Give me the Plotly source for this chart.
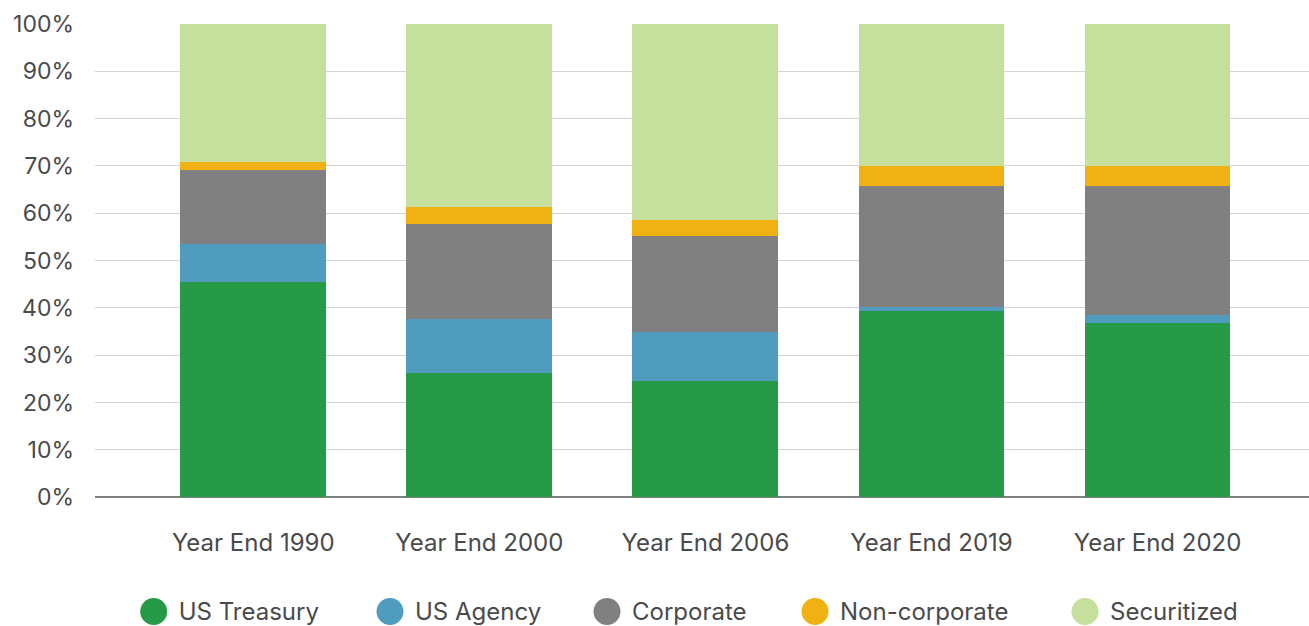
import plotly.graph_objects as go

categories = ["Year End 1990", "Year End 2000", "Year End 2006", "Year End 2019", "Year End 2020"]
series_names = ["US Treasury", "US Agency", "Corporate", "Non-corporate", "Securitized"]
us_treasury = [45.5, 26.3, 24.6, 39.3, 36.8]
us_agency = [8.0, 11.4, 10.3, 0.9, 1.7]
corporate = [15.7, 20.0, 20.3, 25.6, 27.3]
non_corporate = [1.65, 3.6, 3.4, 4.2, 4.2]
securitized = [29.15, 38.7, 41.4, 30.0, 30.0]
y_tick_values = [0, 10, 20, 30, 40, 50, 60, 70, 80, 90, 100]
y_tick_labels = ["0%", "10%", "20%", "30%", "40%", "50%", "60%", "70%", "80%", "90%", "100%"]

colors = ["#269A46", "#509CBF", "#808080", "#F0B213", "#C5DF9C"]
values = [us_treasury, us_agency, corporate, non_corporate, securitized]

W, H = 1309, 626
FONT = "Inter"
TXT = "#4a4a4a"

fig = go.Figure()
for name, vals, col in zip(series_names, values, colors):
    fig.add_trace(go.Bar(
        x=categories, y=vals, name=name, marker=dict(color=col, line=dict(width=0)),
        width=0.645, showlegend=False, hoverinfo="x+y+name"))

# custom legend (large circular swatches) on an overlay pixel-space axis
legend_x = [153.7, 390, 607, 815, 1085]
legend_y = 611.5
fig.add_trace(go.Scatter(
    x=legend_x, y=[legend_y] * 5, mode="markers", xaxis="x2", yaxis="y2",
    marker=dict(size=27, color=colors, line=dict(width=0)),
    showlegend=False, hoverinfo="skip", cliponaxis=False))
fig.add_trace(go.Scatter(
    x=[v + 25 for v in legend_x], y=[legend_y + 2] * 5, mode="text", xaxis="x2", yaxis="y2",
    text=series_names, textposition="middle right",
    textfont=dict(family=FONT, size=24, color=TXT),
    showlegend=False, hoverinfo="skip", cliponaxis=False))

fig.update_layout(
    width=W, height=H, barmode="stack", bargap=0,
    paper_bgcolor="white", plot_bgcolor="rgba(0,0,0,0)",
    margin=dict(l=0, r=0, t=0, b=0),
    font=dict(family=FONT, size=22, color=TXT),
    xaxis=dict(
        domain=[95 / W, 1.0], range=[-0.70, 4.67], type="category",
        showgrid=False, zeroline=False, showline=False, ticks="",
        tickfont=dict(family=FONT, size=24, color=TXT),
        ticklabelstandoff=29, automargin=False, fixedrange=True),
    yaxis=dict(
        domain=[(H - 497.3) / H, (H - 24) / H], range=[0, 100],
        tickvals=y_tick_values, ticktext=y_tick_labels,
        showgrid=True, gridcolor="#d4d4d4", gridwidth=1,
        zeroline=True, zerolinecolor="#808080", zerolinewidth=1.5,
        showline=False, ticks="",
        tickfont=dict(family=FONT, size=23, color=TXT),
        ticklabelstandoff=20, automargin=False, fixedrange=True),
    xaxis2=dict(domain=[0, 1], range=[0, W], visible=False, anchor="y2", fixedrange=True),
    yaxis2=dict(domain=[0, 1], range=[H, 0], visible=False, anchor="x2", fixedrange=True),
)

fig.write_html("out.html")
